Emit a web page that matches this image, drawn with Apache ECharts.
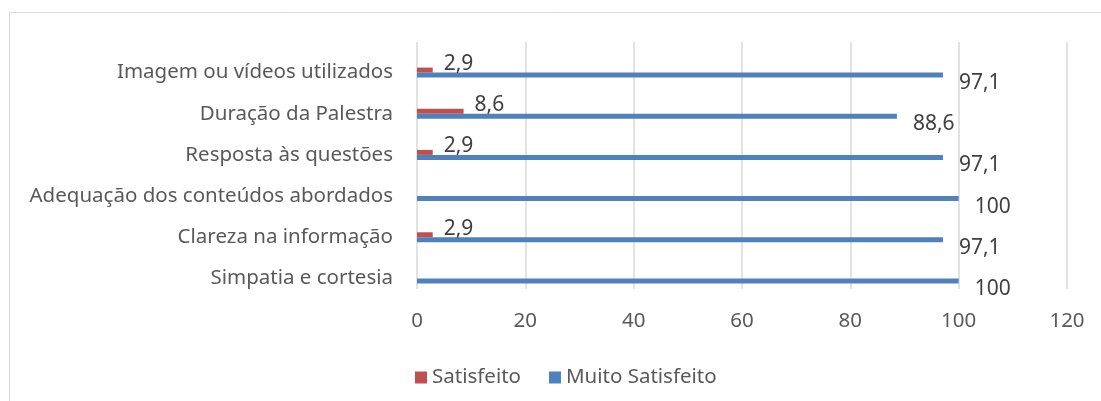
<!DOCTYPE html>
<html>
<head>
<meta charset="utf-8">
<script src="https://cdn.jsdelivr.net/npm/echarts@6/dist/echarts.min.js"></script>
<style>
  html, body { margin: 0; padding: 0; background: #fff; }
  #chart { width: 1101px; height: 401px; }
</style>
</head>
<body>
<div id="chart"></div>
<script>
const categories = [
  'Simpatia e cortesia',
  'Clareza na informação',
  'Adequação dos conteúdos abordados',
  'Resposta às questões',
  'Duração da Palestra',
  'Imagem ou vídeos utilizados'
]
const satisfeito = [0, 2.9, 0, 2.9, 8.6, 2.9]
const muitoSatisfeito = [100, 97.1, 100, 97.1, 88.6, 97.1]
const xTicks = [0, 20, 40, 60, 80, 100, 120]

const font = 'Noto Sans'
const fmt = (v) => String(v).replace('.', ',')

const chart = echarts.init(document.getElementById('chart'))

chart.setOption({
  backgroundColor: '#fff',
  animation: false,
  textStyle: { fontFamily: font },
  graphic: [
    {
      type: 'rect',
      shape: { x: 9.5, y: 12.5, width: 1100, height: 400 },
      style: { fill: 'none', stroke: '#d9d9d9', lineWidth: 1 },
      silent: true
    }
  ],
  legend: {
    data: ['Satisfeito', 'Muito Satisfeito'],
    left: 410,
    top: 362,
    itemWidth: 12,
    itemHeight: 12,
    itemGap: 28,
    icon: 'rect',
    textStyle: { color: '#595959', fontSize: 20.5, fontFamily: font, padding: [0, 0, 0, 0] }
  },
  grid: [
    { left: 417, width: 650, top: 42, height: 247 },
    { left: 417, width: 650, top: 52, height: 247 }
  ],
  xAxis: [
    {
      type: 'value',
      gridIndex: 0,
      min: xTicks[0],
      max: xTicks[xTicks.length - 1],
      interval: 20,
      axisLine: { show: false },
      axisTick: { show: false },
      axisLabel: { color: '#595959', fontSize: 20.5, margin: 22, fontFamily: font },
      splitLine: { lineStyle: { color: '#d9d9d9', width: 1.5 } }
    },
    {
      type: 'value',
      gridIndex: 1,
      min: xTicks[0],
      max: xTicks[xTicks.length - 1],
      show: false
    }
  ],
  yAxis: [
    {
      type: 'category',
      gridIndex: 0,
      data: categories,
      show: false
    },
    {
      type: 'category',
      gridIndex: 1,
      data: categories,
      axisLine: { show: false },
      axisTick: { show: false },
      axisLabel: { color: '#595959', fontSize: 20.5, margin: 24, fontFamily: font },
      splitLine: { show: false }
    }
  ],
  series: [
    {
      name: 'Satisfeito',
      type: 'bar',
      xAxisIndex: 1,
      yAxisIndex: 1,
      data: satisfeito,
      barWidth: 5,
      barGap: '0%',
      itemStyle: { color: '#c0504d' },
      label: {
        show: true,
        position: 'right',
        distance: 11,
        offset: [0, -6],
        color: '#404040',
        fontSize: 21,
        fontFamily: font,
        formatter: (p) => (p.value ? fmt(p.value) : '')
      }
    },
    {
      name: 'Muito Satisfeito',
      type: 'bar',
      xAxisIndex: 1,
      yAxisIndex: 1,
      data: muitoSatisfeito,
      barWidth: 5,
      barGap: '0%',
      itemStyle: { color: '#4f81bd' },
      label: {
        show: true,
        position: 'right',
        distance: 16,
        offset: [0, 8],
        color: '#404040',
        fontSize: 21,
        fontFamily: font,
        formatter: (p) => fmt(p.value)
      }
    }
  ]
})
</script>
</body>
</html>
